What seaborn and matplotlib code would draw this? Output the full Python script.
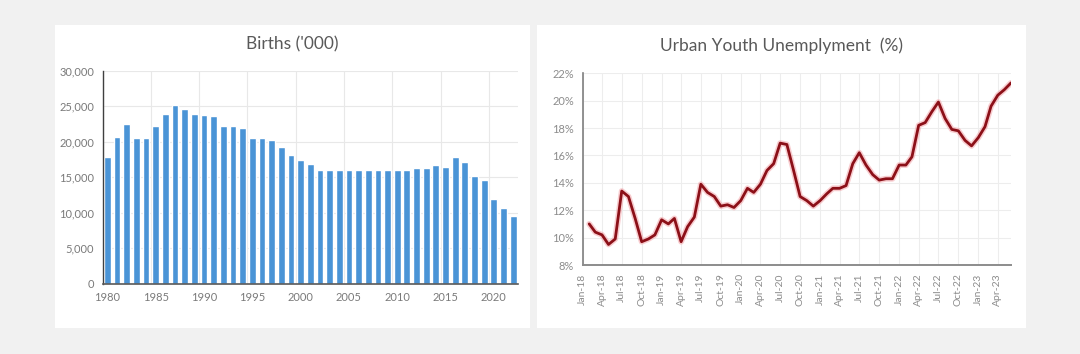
import pandas as pd
import matplotlib
matplotlib.use("Agg")
import matplotlib.pyplot as plt
import matplotlib.patheffects as pe
from matplotlib.patches import Rectangle
import seaborn as sns

# ---------------------------------
# Data
# ---------------------------------

years = list(range(1980, 2023))
births = [
    17800, 20700, 22500, 20500, 20500, 22200, 23900, 25200, 24600, 24000,
    23800, 23600, 22200, 22200, 22000, 20600, 20600, 20200, 19300, 18200,
    17500, 16900, 16000, 16000, 16000, 16000, 16000, 16000, 16000, 16000,
    16000, 16000, 16300, 16300, 16800, 16400, 17900, 17100, 15200, 14600,
    12000, 10600, 9500,
]
year_ticks = [1980, 1985, 1990, 1995, 2000, 2005, 2010, 2015, 2020]

# monthly, Feb-2018 .. Jun-2023
months = pd.date_range("2018-02-01", "2023-06-01", freq="MS")
unemployment = [
    11.0, 10.4, 10.2, 9.5, 9.9, 13.4, 13.0, 11.4, 9.7, 9.9, 10.2,
    11.3, 11.0, 11.4, 9.7, 10.8, 11.5, 13.9, 13.3, 13.0, 12.3, 12.4, 12.2,
    12.7, 13.6, 13.3, 13.9, 14.9, 15.4, 16.9, 16.8, 14.9, 13.0, 12.7, 12.3,
    12.7, 13.2, 13.6, 13.6, 13.8, 15.4, 16.2, 15.3, 14.6, 14.2, 14.3, 14.3,
    15.3, 15.3, 15.9, 18.2, 18.4, 19.2, 19.9, 18.7, 17.9, 17.8, 17.1, 16.7,
    17.3, 18.1, 19.6, 20.4, 20.8, 21.3,
]
quarter_ticks = pd.date_range("2018-01-01", "2023-04-01", freq="3MS")
quarter_labels = [
    "Jan-18", "Apr-18", "Jul-18", "Oct-18", "Jan-19", "Apr-19", "Jul-19", "Oct-19",
    "Jan-20", "Apr-20", "Jul-20", "Oct-20", "Jan-21", "Apr-21", "Jul-21", "Oct-21",
    "Jan-22", "Apr-22", "Jul-22", "Oct-22", "Jan-23", "Apr-23",
]
pct_ticks = [8, 10, 12, 14, 16, 18, 20, 22]

births_df = pd.DataFrame({"year": years, "births": births})
unemp_df = pd.DataFrame({"month": months, "rate": unemployment})

# ---------------------------------
# Figure
# ---------------------------------

sns.set_theme(style="white")
plt.rcParams["font.family"] = ["Lato", "DejaVu Sans"]

fig = plt.figure(figsize=(10.8, 3.54), dpi=100)
fig.patch.set_facecolor("#f1f1f1")

# white panels behind the two charts
for x0, w in [(55, 475), (537, 489)]:
    fig.patches.append(Rectangle((x0 / 1080, 1 - 328 / 354), w / 1080, 303 / 354,
                                 transform=fig.transFigure, facecolor="white",
                                 edgecolor="none", zorder=-5))

grid_col = "#e8e8e8"
label_col = "#7a7a7a"
title_col = "#595959"

# ---------------------------------
# Left: Births bar chart
# ---------------------------------

ax1 = fig.add_axes([102.5 / 1080, 1 - 283.5 / 354, 415.5 / 1080, 212.5 / 354])
ax1.set_facecolor("none")

sns.barplot(data=births_df, x="year", y="births", color="#4a94d6",
            saturation=1, width=0.7, ax=ax1, zorder=2)

ax1.set_xlim(-0.5, len(years) - 0.5)
ax1.set_ylim(0, 30000)
ax1.set_xticks([years.index(y) for y in year_ticks])
ax1.set_xticklabels([str(y) for y in year_ticks])
ax1.set_xticks([years.index(y) - 0.5 for y in year_ticks], minor=True)
ax1.set_yticks(range(0, 30001, 5000))
ax1.set_yticklabels([f"{v:,}" for v in range(0, 30001, 5000)])
ax1.grid(axis="y", which="major", color=grid_col, linewidth=0.8, zorder=0)
ax1.grid(axis="x", which="minor", color=grid_col, linewidth=0.8, zorder=0)
ax1.tick_params(axis="both", which="both", length=0, labelsize=8,
                labelcolor=label_col, pad=6)
ax1.set_axisbelow(True)
ax1.set_xlabel("")
ax1.set_ylabel("")
for side in ["top", "right"]:
    ax1.spines[side].set_visible(False)
ax1.spines["left"].set_color("#404040")
ax1.spines["bottom"].set_color("#595959")
ax1.spines["left"].set_linewidth(1.0)
ax1.spines["bottom"].set_linewidth(1.2)

fig.text(292 / 1080, 1 - 44 / 354, "Births ('000)", ha="center", va="center",
         fontsize=12.5, color=title_col)

# ---------------------------------
# Right: Urban youth unemployment line
# ---------------------------------

ax2 = fig.add_axes([582.5 / 1080, 1 - 265 / 354, 428.5 / 1080, 191.7 / 354])
ax2.set_facecolor("none")

sns.lineplot(data=unemp_df, x="month", y="rate", color="#8c1018",
             linewidth=2.0, ax=ax2, zorder=3,
             path_effects=[pe.Stroke(linewidth=4.2, foreground="#f3a3a8", alpha=0.55),
                           pe.Normal()])

ax2.set_xlim(pd.Timestamp("2018-01-01"), pd.Timestamp("2023-06-01"))
ax2.set_ylim(8, 22)
ax2.set_xticks(quarter_ticks)
ax2.set_xticklabels(quarter_labels, rotation=90)
ax2.set_yticks(pct_ticks)
ax2.set_yticklabels([f"{v}%" for v in pct_ticks])
ax2.grid(axis="both", color="#ededed", linewidth=0.8, zorder=0)
ax2.set_axisbelow(True)
ax2.tick_params(axis="x", length=3, width=0.8, color="#7f7f7f", direction="out",
                labelsize=7.5, labelcolor="#8c8c8c", pad=3)
ax2.tick_params(axis="y", length=0, labelsize=8, labelcolor="#8c8c8c", pad=6)
ax2.set_xlabel("")
ax2.set_ylabel("")
for side in ["top", "right"]:
    ax2.spines[side].set_visible(False)
ax2.spines["left"].set_color("#7f7f7f")
ax2.spines["bottom"].set_color("#8c8c8c")
ax2.spines["left"].set_linewidth(1.2)
ax2.spines["bottom"].set_linewidth(1.4)

fig.text(782 / 1080, 1 - 46 / 354, "Urban Youth Unemplyment  (%)", ha="center",
         va="center", fontsize=12.5, color=title_col)

fig.savefig("out.png", dpi=100, facecolor=fig.get_facecolor())
